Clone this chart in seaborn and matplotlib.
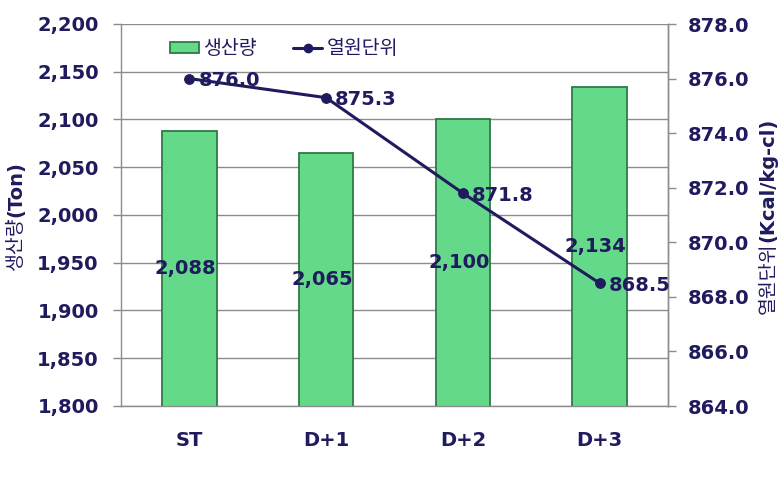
import matplotlib
matplotlib.use("Agg")
import matplotlib.pyplot as plt
import seaborn as sns
import numpy as np
import pandas as pd
from matplotlib.patches import Patch
from matplotlib.lines import Line2D
from matplotlib.ticker import MultipleLocator, FixedLocator, FuncFormatter

categories = ["ST", "D+1", "D+2", "D+3"]
production = [2088, 2065, 2100, 2134]
heat_unit = [876.0, 875.3, 871.8, 868.5]
left_label_parts = ["생산량", "(Ton)"]
right_label_parts = ["열원단위", "(Kcal/kg-cl)"]
bar_name = "생산량"
line_name = "열원단위"

sns.set_theme(style="white")
plt.rcParams["font.family"] = ["DejaVu Sans", "Noto Sans CJK KR"]

navy = "#1F1B5E"
bar_color = "#64D98A"
bar_edge = "#2E7A46"
grid_c = "#8C8C8C"

df = pd.DataFrame({"cat": categories, "prod": production, "heat": heat_unit,
                   "pos": np.arange(len(categories))})

W, H = 783, 482
fig = plt.figure(figsize=(W / 100, H / 100), dpi=100)
ax = fig.add_axes([121/W, 1-406/H, (668-121)/W, (406-24)/H])

sns.barplot(data=df, x="pos", y="prod", ax=ax, color=bar_color, width=0.4,
            edgecolor=bar_edge, linewidth=1.3, saturation=1, native_scale=True)
ax.set_ylim(1800, 2200)
ax.set_xlim(-0.5, len(categories) - 0.5)
ax.yaxis.set_major_locator(MultipleLocator(50))
ax.yaxis.set_major_formatter(FuncFormatter(lambda v, p: f"{int(v):,}"))
ax.grid(axis="y", color=grid_c, linewidth=1)
ax.set_axisbelow(True)
ax.set_xticks(df["pos"])
ax.set_xticklabels(categories)
ax.xaxis.set_minor_locator(FixedLocator(np.arange(-0.5, len(categories), 1.0)))
ax.tick_params(axis="x", which="major", length=0, pad=18, labelsize=14, labelcolor=navy)
ax.tick_params(axis="x", which="minor", length=6, width=1, color=grid_c, direction="out")
ax.tick_params(axis="y", length=6, width=1, color=grid_c, direction="out",
               left=True, labelsize=14, labelcolor=navy, pad=10)
for lab in ax.get_xticklabels() + ax.get_yticklabels():
    lab.set_fontweight("bold")
ax.set_xlabel("")
ax.set_ylabel("")
ax.spines["top"].set_visible(False)
for s in ["left", "bottom", "right"]:
    ax.spines[s].set_color(grid_c)
    ax.spines[s].set_linewidth(1)

for p, v in zip(df["pos"], df["prod"]):
    ax.text(p - 0.03, (1800 + v) / 2, f"{v:,}", ha="center", va="center",
            fontsize=14, fontweight="bold", color=navy)

ax2 = ax.twinx()
sns.lineplot(data=df, x="pos", y="heat", ax=ax2, color=navy, linewidth=2.2,
             marker="o", markersize=7, markeredgecolor=navy)
ax2.set_ylim(864, 878)
ax2.yaxis.set_major_locator(MultipleLocator(2))
ax2.yaxis.set_major_formatter(FuncFormatter(lambda v, p: f"{v:.1f}"))
ax2.tick_params(axis="y", length=6, width=1, color=grid_c, direction="out",
                right=True, labelsize=14, labelcolor=navy, pad=8)
for lab in ax2.get_yticklabels():
    lab.set_fontweight("bold")
ax2.set_ylabel("")
ax2.set_xlabel("")
for s in ["top", "left", "bottom"]:
    ax2.spines[s].set_visible(False)
ax2.spines["right"].set_color(grid_c)
ax2.spines["right"].set_linewidth(1)

for p, v in zip(df["pos"], df["heat"]):
    ax2.annotate(f"{v:.1f}", (p, v), xytext=(9, -2), textcoords="offset pixels",
                 ha="left", va="center", fontsize=14, fontweight="bold", color=navy)

handles = [Patch(facecolor=bar_color, edgecolor=bar_edge, linewidth=1.3),
           Line2D([0], [0], color=navy, linewidth=2.2, marker="o", markersize=6)]
leg = ax.legend(handles, [bar_name, line_name], loc="center left",
                bbox_to_anchor=(0.057, 0.935), ncol=2, frameon=False,
                fontsize=14, handlelength=1.5, handleheight=0.5,
                columnspacing=1.9, handletextpad=0.2)
for t in leg.get_texts():
    t.set_color(navy)

# rotated axis titles made of a regular Korean part and a bold Latin part
renderer = fig.canvas.get_renderer()
def stacked_label(xpx, ycenter_px, parts, size):
    weights = ["normal", "bold"]
    texts = [fig.text(0, 0, s, rotation=90, fontsize=size, fontweight=w,
                      color=navy, ha="center", va="bottom")
             for s, w in zip(parts, weights)]
    heights = [t.get_window_extent(renderer).height for t in texts]
    y = ycenter_px - sum(heights) / 2
    for t, h in zip(texts, heights):
        t.set_position((xpx / W, y / H))
        y += h

stacked_label(16, H - 216, left_label_parts, 14)
stacked_label(768, H - 216, right_label_parts, 14)

fig.savefig("out.png", dpi=100)
